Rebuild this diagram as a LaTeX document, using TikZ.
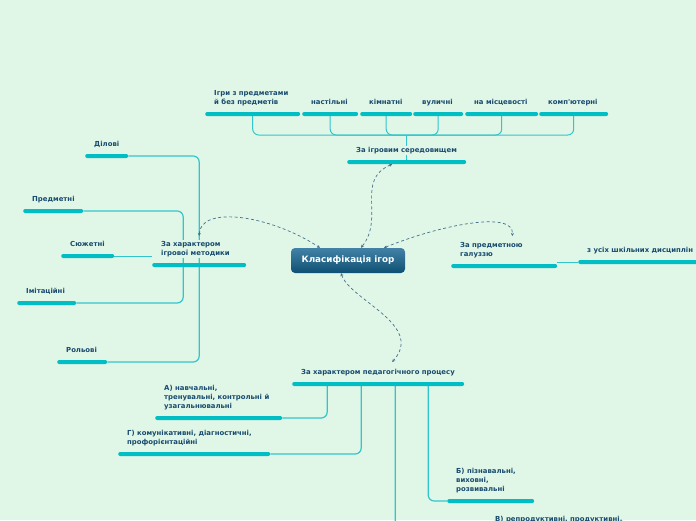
\documentclass[tikz,border=0pt]{standalone}
\usepackage{fontspec}
\setmainfont{DejaVu Sans}
\usetikzlibrary{arrows.meta,backgrounds}
\definecolor{bgc}{RGB}{224,247,232}
\definecolor{barc}{RGB}{0,190,196}
\definecolor{linec}{RGB}{50,198,204}
\definecolor{txtc}{RGB}{25,75,110}
\definecolor{dashc}{RGB}{70,110,140}
\definecolor{ctop}{RGB}{66,130,166}
\definecolor{cbot}{RGB}{14,80,115}
\tikzset{
 topicbar/.style={fill=barc, rounded corners=2pt, minimum height=4pt, inner sep=0pt, anchor=west},
 topictext/.style={font=\bfseries\fontsize{6.9}{8.8}\selectfont, text=txtc, align=left, inner sep=1pt, text depth=2pt, anchor=south west, fill=bgc},
 conn/.style={draw=linec, line width=1.2pt, rounded corners=6pt},
 rel/.style={draw=dashc, line width=0.7pt, dash pattern=on 3pt off 2.5pt, {Stealth[length=3pt,width=3pt]}-{Stealth[length=3pt,width=3pt]}},
 rootnode/.style={minimum width=114pt, minimum height=25pt, rounded corners=4pt, top color=ctop, bottom color=cbot, text=white, font=\bfseries\fontsize{8.8}{10}\selectfont, inner sep=0pt},
}
\newcommand\mytopic[5]{%
 \node[topicbar, minimum width=#4-#2] (#1) at (#2,#3) {};
 \node[topictext] (#1t) at (#2+8,#3-6.5) {#5};
}
\begin{document}
\begin{tikzpicture}[x=1pt,y=-1pt]
\useasboundingbox (0,0) rectangle (696,520);
\clip (0,0) rectangle (696,520);
% root
\node[rootnode] (root) at (348,260.5) {Класифікація ігор};
% top group
\mytopic{env}{347}{162}{466}{За ігровим середовищем}
\mytopic{ta}{205}{114}{300}{Ігри з предметами\\й без предметів}
\mytopic{tb}{302}{114}{358}{настільні}
\mytopic{tc}{360}{114}{412}{кімнатні}
\mytopic{td}{413}{114}{463}{вуличні}
\mytopic{te}{465}{114}{538}{на місцевості}
\mytopic{tf}{539}{114}{608}{комп\textquotesingle ютерні}
\coordinate (envj) at ([yshift=27pt]env.center);
% left group
\mytopic{meth}{152}{265}{246}{За характером\\ігрової методики}
\mytopic{la}{85}{156}{128}{Ділові}
\mytopic{lb}{23}{211}{83}{Предметні}
\mytopic{lc}{61}{256}{114}{Сюжетні}
\mytopic{ld}{17}{303}{76}{Імітаційні}
\mytopic{le}{57}{362}{107}{Рольові}
% right group
\mytopic{subj}{451}{266}{557}{За предметною\\галуззю}
\mytopic{sa}{578}{262}{720}{з усіх шкільних дисциплін}
% bottom group
\mytopic{ped}{292}{384}{464}{За характером педагогічного процесу}
\mytopic{ba}{155}{418}{282}{А) навчальні,\\тренувальні, контрольні й\\узагальнювальні}
\mytopic{bb}{118}{454}{270}{Г) комунікативні, діагностичні,\\профорієнтаційні}
\mytopic{bc}{447}{501}{534}{Б) пізнавальні,\\виховні,\\розвивальні}
\mytopic{bd}{486}{531}{640}{В) репродуктивні, продуктивні,}
\begin{pgfonlayer}{background}
\fill[bgc] (0,0) rectangle (696,520);
% top connectors
\draw[conn, line width=1pt] (env.center) -- (envj);
\foreach \c in {ta,tb,tc,td,te,tf}
  \draw[conn, line width=1pt] (envj) -| (\c.center);
% left connectors
\draw[conn] (la.east) -| (meth.center);
\draw[conn] (lb.east) -| ([xshift=-16pt]meth.center);
\draw[conn, line width=0.8pt] (lc.east) -- (lc.east -| meth.west);
\draw[conn] (ld.east) -| ([xshift=-16pt]meth.center);
\draw[conn] (le.east) -| (meth.center);
% right connector
\draw[conn, line width=0.8pt] (subj.east |- sa.west) -- (sa.west);
% bottom connectors
\draw[conn] (ba.east) -| ([xshift=-51pt]ped.center);
\draw[conn] (bb.east) -| ([xshift=-17pt]ped.center);
\draw[conn] (bc.west) -| ([xshift=50pt]ped.center);
\draw[conn] (bd.west) -| ([xshift=17pt]ped.center);
\end{pgfonlayer}
% relations
\draw[rel] ([xshift=-14.5pt]env.south) .. controls (355,180) and (385,218) .. ([xshift=13pt]root.north);
\draw[rel] ([yshift=29pt]meth.center) .. controls (200,205) and (270,215) .. ([xshift=-28pt]root.north);
\draw[rel] ([xshift=36pt]root.north) .. controls (440,225) and (515,210) .. ([xshift=8pt,yshift=30pt]subj.center);
\draw[rel] ([xshift=-7pt]root.south) .. controls (350,300) and (425,325) .. ([xshift=14pt,yshift=22pt]ped.center);
\end{tikzpicture}
\end{document}
